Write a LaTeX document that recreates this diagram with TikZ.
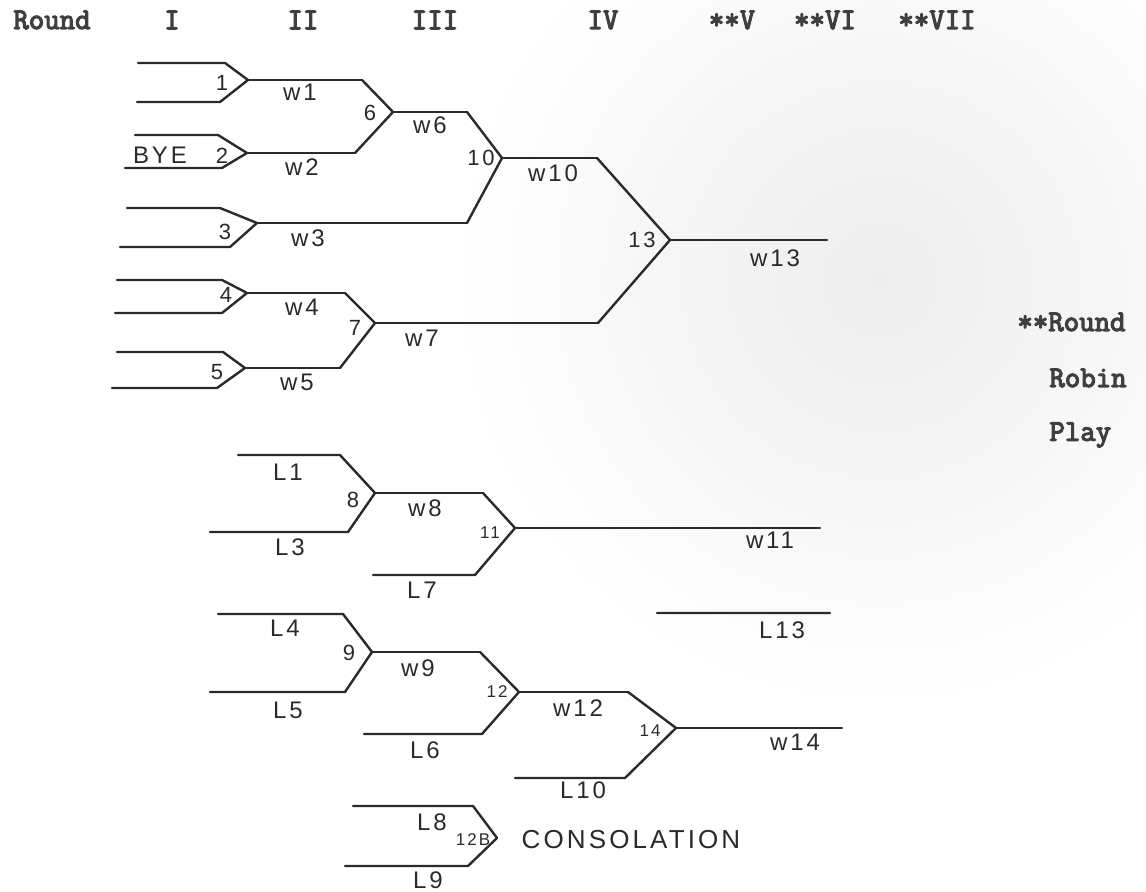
\documentclass[tikz,border=0pt]{standalone}
\usepackage{fontspec}
\setmainfont{Liberation Sans}
\newfontfamily\typefont[FakeBold=4]{Latin Modern Mono}
\newfontfamily\handfont[LetterSpace=12]{Liberation Sans}
\definecolor{ink}{HTML}{2A2A2A}
\tikzset{
  bracket/.style={draw=ink,line width=1.2pt},
  hand/.style={font=\handfont\fontsize{12}{14}\selectfont,text=ink,inner sep=0pt},
  num/.style={font=\handfont\fontsize{11}{13}\selectfont,text=ink,inner sep=0pt},
  smallnum/.style={font=\handfont\fontsize{8.5}{10}\selectfont,text=ink,inner sep=0pt},
  head/.style={font=\typefont\fontsize{15}{17}\selectfont,text=ink!90,inner sep=0pt}
}
\begin{document}
\begin{tikzpicture}[line join=round,line cap=round,x=0.5pt,y=-0.5pt]
			\useasboundingbox (0,0) rectangle (1146,892);
			\shade[inner color=black!7,outer color=white] (880,280) circle (430);
			% winners side
			\path 
			(248,80) coordinate (m1) (362,80) coordinate (e1)
			(247,153) coordinate (m2) (355,153) coordinate (e2)
			(257,223) coordinate (m3) (467,223) coordinate (e3)
			(247,293) coordinate (m4) (345,293) coordinate (e4)
			(245,368) coordinate (m5) (340,368) coordinate (e5)
			(393,112) coordinate (m6) (467,112) coordinate (e6)
			(375,323) coordinate (m7) (598,323) coordinate (e7)
			(502,158) coordinate (m10) (597,158) coordinate (e10)
			(670,240) coordinate (m13) (827,240) coordinate (e13);
			\draw[bracket] (m1)--++(-23,-17)--++(-87,0) (m1)--++(-28,22)--++(-83,0);
			\draw[bracket] (m2)--++(-29,-18)--++(-83,0) (m2)--++(-25,15)--++(-97,0);
			\draw[bracket] (m3)--++(-37,-15)--++(-93,0) (m3)--++(-27,24)--++(-110,0);
			\draw[bracket] (m4)--++(-25,-13)--++(-105,0) (m4)--++(-25,20)--++(-107,0);
			\draw[bracket] (m5)--++(-22,-16)--++(-106,0) (m5)--++(-28,20)--++(-105,0);
			\foreach \m in {1,...,5,6,7,10,13}
			\draw[bracket] (m\m)--(e\m);
			\draw[bracket] (e1)--(m6)--(e2) (e6)--(m10)--(e3) (e4)--(m7)--(e5) (e10)--(m13)--(e7);
			% losers side
			\path 
			(375,493) coordinate (m8) (483,493) coordinate (e8)
			(515,528) coordinate (m11) (820,528) coordinate (e11)
			(372,652) coordinate (m9) (480,652) coordinate (e9)
			(519,692) coordinate (m12) (628,692) coordinate (e12)
			(676,728) coordinate (m14) (842,728) coordinate (e14)
			(497,838) coordinate (m12b)
			(657,613) coordinate (l13a) (830,613) coordinate (l13b);
			\draw[bracket] (m8)--++(-35,-38)--++(-102,0) (m8)--++(-27,39)--++(-138,0);
			\draw[bracket] (m9)--++(-29,-38)--++(-125,0) (m9)--++(-27,40)--++(-135,0);
			\draw[bracket] (m11)--++(-40,47)--++(-102,0);
			\draw[bracket] (m12)--++(-37,42)--++(-118,0);
			\draw[bracket] (m14)--++(-51,50)--++(-110,0);
			\draw[bracket] (m12b)--++(-24,-32)--++(-120,0) (m12b)--++(-29,28)--++(-123,0);
			\foreach \m in {8,9,11,12,14}
			\draw[bracket] (m\m)--(e\m);
			\draw[bracket] (e8)--(m11) (e9)--(m12) (e12)--(m14) (l13a)--(l13b);
			% headings
			\foreach \x/\t in {52/Round,172/I,303/II,435/III,603/IV,732/**V,825/**VI,937/**VII}
			\node[head] (h\x) at (\x,20) {\t};
			\node[head,anchor=west] (rr) at (1017,322) {**Round};
			\node[head,anchor=west] (rb) at (1049,378) {Robin};
			\node[head,anchor=west] (pl) at (1049,435) {Play};
			% labels
			\foreach \x/\y/\t in {222/83/1,222/156/2,225/232/3,226/295/4,217/372/5,370/113/6,355/328/7,481/158/10,642/240/13,353/500/8,349/653/9}
			\node[num] (n\t) at (\x,\y) {\t};
			\foreach \x/\y/\t in {490/533/11,497/692/12,650/731/14,473/840/12B}
			\node[smallnum] (n\t) at (\x,\y) {\t};
			\foreach \x/\y/\t in {300/92/w1,302/167/w2,308/238/w3,302/307/w4,297/382/w5,430/125/w6,422/338/w7,553/173/w10,775/258/w13,
			288/472/L1,290/547/L3,425/508/w8,422/590/L7,770/540/w11,782/630/L13,285/628/L4,288/710/L5,418/668/w9,425/750/L6,578/708/w12,583/790/L10,795/742/w14,432/822/L8,428/880/L9}
			\node[hand] (\t) at (\x,\y) {\t};
			\node[hand,anchor=south] (bye) at (160,164) {BYE};
			\node[hand,font=\handfont\fontsize{13}{15}\selectfont] (cons) at (631,840) {CONSOLATION};
		\end{tikzpicture}
\end{document}
